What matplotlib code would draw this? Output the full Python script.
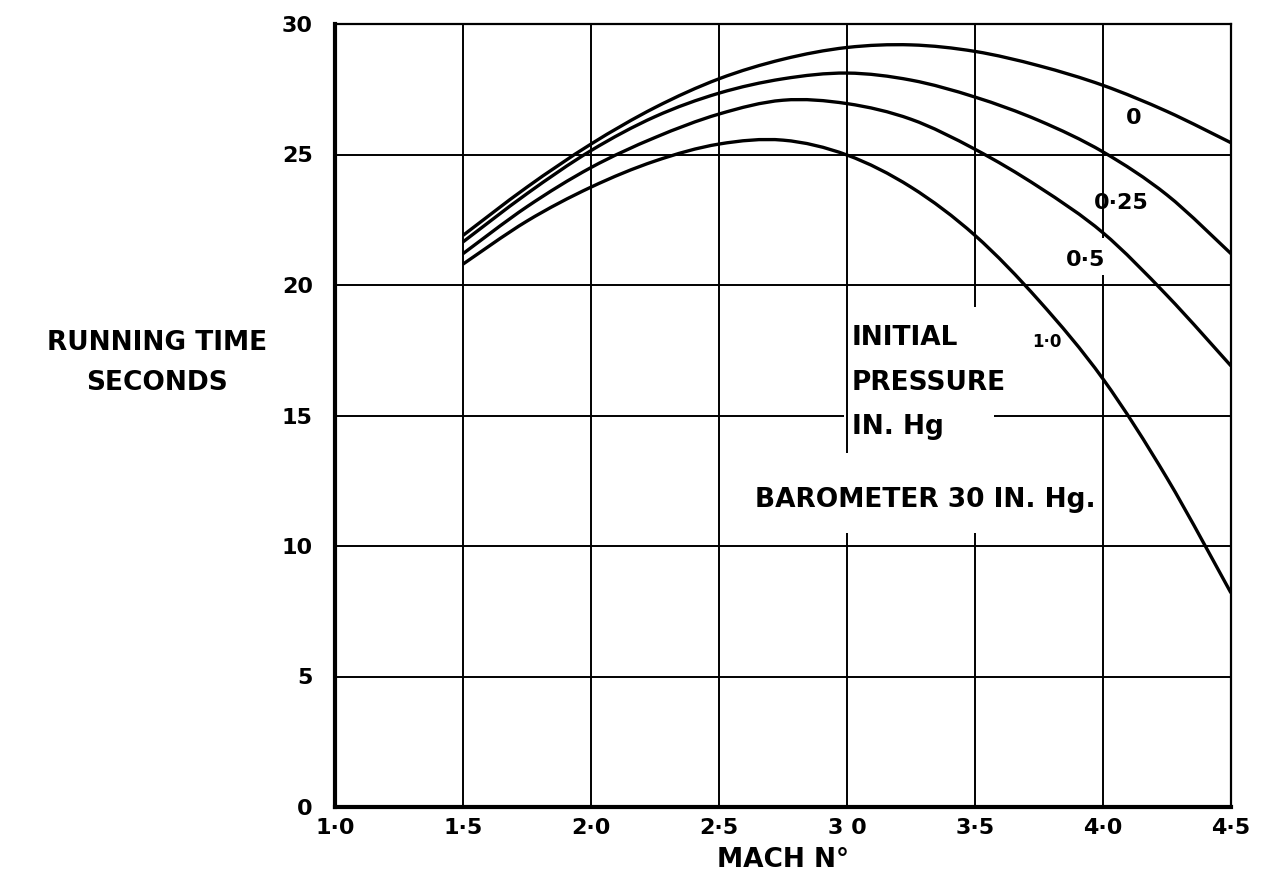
import numpy as np
import matplotlib
matplotlib.use("Agg")
from matplotlib import pyplot as plt
from matplotlib.path import Path
from matplotlib.patches import PathPatch

# Mach number stations
mach = [1.5, 1.75, 2.0, 2.25, 2.5, 2.75, 3.0, 3.25, 3.5, 3.75, 4.0, 4.25, 4.5]

# running time (seconds) for each initial pressure (in. Hg)
time_p0 = [21.9, 23.75, 25.4, 26.8, 27.9, 28.65, 29.1, 29.2, 28.95, 28.4, 27.65, 26.65, 25.45]
time_p025 = [21.65, 23.5, 25.15, 26.45, 27.35, 27.9, 28.12, 27.85, 27.2, 26.3, 25.1, 23.45, 21.2]
time_p05 = [21.2, 23.0, 24.5, 25.65, 26.55, 27.08, 26.95, 26.35, 25.2, 23.75, 22.0, 19.6, 16.9]
time_p10 = [20.8, 22.45, 23.75, 24.75, 25.4, 25.55, 24.98, 23.75, 21.9, 19.4, 16.4, 12.6, 8.2]

curves = [time_p0, time_p025, time_p05, time_p10]
curve_labels = ["0", "0·25", "0·5", "1·0"]
label_pos = [(4.12, 26.4), (4.07, 23.15), (3.93, 20.95), (3.78, 17.8)]

xticks = [1.0, 1.5, 2.0, 2.5, 3.0, 3.5, 4.0, 4.5]
xticklabels = ["1·0", "1·5", "2·0", "2·5", "3 0", "3·5", "4·0", "4·5"]
yticks = [0, 5, 10, 15, 20, 25, 30]

# grid lines with the gaps left for lettering: (value, [(start, stop), ...])
vgrid = [(1.5, [(0, 30)]), (2.0, [(0, 30)]), (2.5, [(0, 30)]),
         (3.0, [(0, 10.5), (13.55, 30)]),
         (3.5, [(0, 10.5), (19.15, 30)]),
         (4.0, [(0, 20.4), (21.8, 30)])]
hgrid = [(5, [(1.0, 4.5)]), (10, [(1.0, 4.5)]),
         (15, [(1.0, 2.99), (3.575, 4.5)]),
         (20, [(1.0, 4.5)]), (25, [(1.0, 4.5)])]


def smooth_path(xs, ys):
    # draw through the read points with a Catmull-Rom style bezier
    p = np.column_stack([xs, ys])
    verts = [p[0]]
    codes = [Path.MOVETO]
    n = len(p)
    for i in range(n - 1):
        p0 = p[i - 1] if i > 0 else p[i]
        p1 = p[i]
        p2 = p[i + 1]
        p3 = p[i + 2] if i + 2 < n else p[i + 1]
        c1 = p1 + (p2 - p0) / 6.0
        c2 = p2 - (p3 - p1) / 6.0
        verts += [c1, c2, p2]
        codes += [Path.CURVE4] * 3
    return Path(verts, codes)


plt.rcParams['font.family'] = ['DejaVu Sans']

fig = plt.figure(figsize=(12.76, 8.84), dpi=100)
ax = fig.add_axes([335/1276, 1-807/884, (1231-335)/1276, (807-24)/884])

for x, segs in vgrid:
    for a, b in segs:
        ax.plot([x, x], [a, b], color='black', lw=1.4, solid_capstyle='butt', zorder=1)
for y, segs in hgrid:
    for a, b in segs:
        ax.plot([a, b], [y, y], color='black', lw=1.4, solid_capstyle='butt', zorder=1)

for vals in curves:
    ax.add_patch(PathPatch(smooth_path(mach, vals), fill=False, edgecolor='black',
                           lw=2.4, capstyle='butt', joinstyle='round', zorder=3))

for lab, (x, y) in zip(curve_labels, label_pos):
    fs = 12 if lab == "1·0" else 16
    ax.text(x, y, lab, ha='center', va='center', fontsize=fs,
            fontweight='bold', zorder=4)

ax.text(3.02, 17.97, "INITIAL", ha='left', va='center', fontsize=19, fontweight='bold')
ax.text(3.02, 16.25, "PRESSURE", ha='left', va='center', fontsize=19, fontweight='bold')
ax.text(3.02, 14.56, "IN. Hg", ha='left', va='center', fontsize=19, fontweight='bold')
ax.text(2.64, 11.76, "BAROMETER 30 IN. Hg.", ha='left', va='center',
        fontsize=19, fontweight='bold')

ax.set_xlim(1.0, 4.5)
ax.set_ylim(0, 30)
ax.set_xticks(xticks)
ax.set_xticklabels(xticklabels, fontsize=16, fontweight='bold')
ax.set_yticks(yticks)
ax.set_yticklabels([str(v) for v in yticks], fontsize=16, fontweight='bold')
ax.tick_params(length=0, pad=8)
ax.tick_params(axis='y', pad=16)

for side in ['left', 'bottom']:
    ax.spines[side].set_linewidth(3.0)
for side in ['top', 'right']:
    ax.spines[side].set_linewidth(1.6)

fig.text(157/1276, 1-343/884, "RUNNING TIME", ha='center', va='center',
         fontsize=19, fontweight='bold')
fig.text(157/1276, 1-383/884, "SECONDS", ha='center', va='center',
         fontsize=19, fontweight='bold')
fig.text(783/1276, 1-860/884, "MACH N°", ha='center', va='center',
         fontsize=19, fontweight='bold')

fig.savefig("out.png", dpi=100, facecolor='white')
